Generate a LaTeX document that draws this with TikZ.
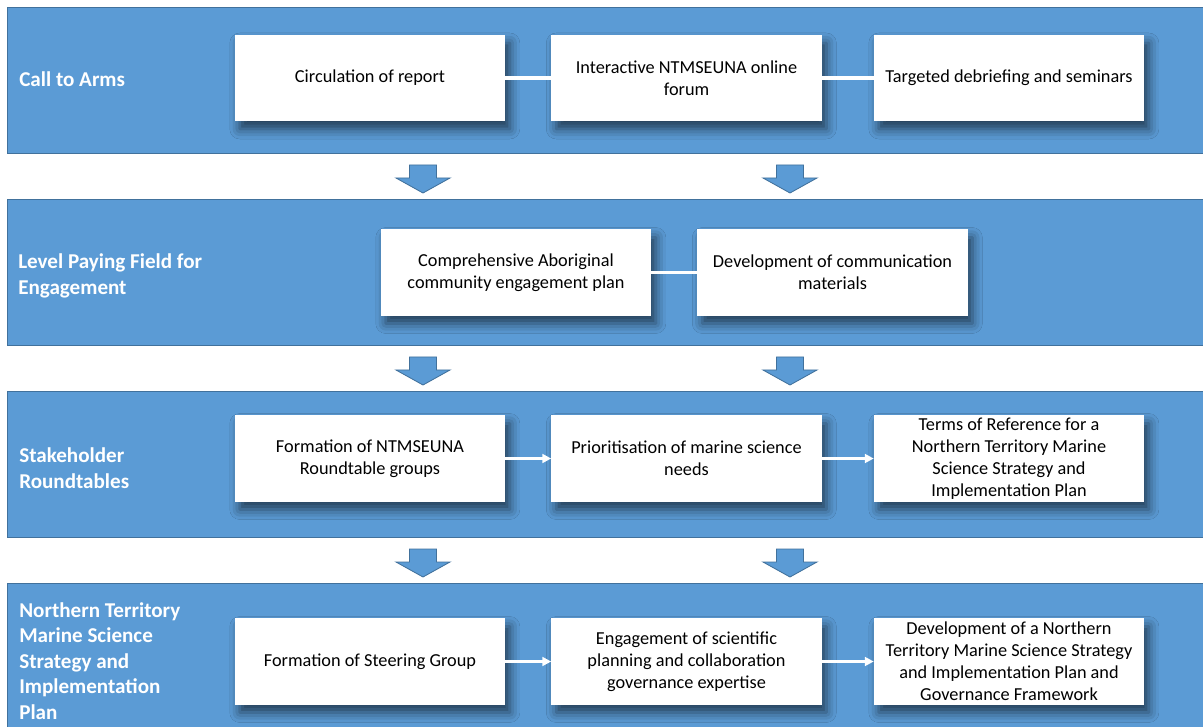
\documentclass[tikz,border=0pt]{standalone}
\usepackage{fontspec}
\setmainfont{Carlito}
\usetikzlibrary{arrows.meta,shadows.blur}
\definecolor{bandblue}{HTML}{5B9BD5}
\definecolor{bandline}{HTML}{41719C}
\begin{document}
\begin{tikzpicture}[x=0.025cm, y=-0.025cm]

	\tikzstyle{banda}=[rectangle, draw=bandline, fill=bandblue, line width=0.6pt, minimum width=30.175cm, minimum height=3.65cm, inner sep=0pt]
	\tikzstyle{titulo}=[anchor=west, align=left, text=white, inner sep=0pt, font=\fontsize{15pt}{18.2pt}\selectfont\bfseries]
	\tikzstyle{caja}=[rectangle, fill=white, minimum width=6.75cm, minimum height=2.15cm, align=center, inner sep=0pt, font=\fontsize{13pt}{15.6pt}\selectfont, blur shadow={shadow xshift=0.12cm, shadow yshift=-0.2cm, shadow blur radius=0.25cm, shadow opacity=60}]
	\tikzstyle{enlace}=[white, line width=2.2pt]
	\tikzstyle{flecha}=[white, line width=1.5pt, -{Triangle[length=0.22cm, width=0.22cm]}]
	\tikzstyle{bloque}=[draw=bandline, fill=bandblue, line width=0.6pt, line join=miter]

	\clip (0, 0) rectangle (1203, 727);
	\fill[white] (0, 0) rectangle (1203, 727);

	\coordinate (b_1) at (611.5, 80); % CALL TO ARMS
	\coordinate (b_2) at (611.5, 272); % LEVEL PAYING FIELD
	\coordinate (b_3) at (611.5, 464); % ROUNDTABLES
	\coordinate (b_4) at (611.5, 663); % STRATEGY

	\node[banda] (b_1) at (b_1) {};
	\node[banda] (b_2) at (b_2) {};
	\node[banda] (b_3) at (b_3) {};
	\node[banda, minimum height=4.0cm] (b_4) at (b_4) {};

	\node[titulo] (t_1) at (19, 79) {Call to Arms};
	\node[titulo] (t_2) at (18, 276) {Level Paying Field for\\Engagement};
	\node[titulo] (t_3) at (19, 468) {Stakeholder\\Roundtables};
	\node[titulo] (t_4) at (19, 661) {Northern Territory\\Marine Science\\Strategy and\\Implementation\\Plan};

	\coordinate (c_1_1) at (370, 78); % FILA 1
	\coordinate (c_1_2) at (686.5, 78); % FILA 1
	\coordinate (c_1_3) at (1009, 78); % FILA 1
	\coordinate (c_2_1) at (516, 272.5); % FILA 2
	\coordinate (c_2_2) at (832.5, 272.5); % FILA 2
	\coordinate (c_3_1) at (370, 458.5); % FILA 3
	\coordinate (c_3_2) at (686.5, 458.5); % FILA 3
	\coordinate (c_3_3) at (1009, 458.5); % FILA 3
	\coordinate (c_4_1) at (370, 661.5); % FILA 4
	\coordinate (c_4_2) at (686.5, 661.5); % FILA 4
	\coordinate (c_4_3) at (1009, 661.5); % FILA 4

	\node[caja] (c_1_1) at (c_1_1) {Circulation of report};
	\node[caja] (c_1_2) at (c_1_2) {Interactive NTMSEUNA online\\forum};
	\node[caja] (c_1_3) at (c_1_3) {Targeted debriefing and seminars};
	\node[caja] (c_2_1) at (c_2_1) {Comprehensive Aboriginal\\community engagement plan};
	\node[caja] (c_2_2) at (c_2_2) {Development of communication\\materials};
	\node[caja] (c_3_1) at (c_3_1) {Formation of NTMSEUNA\\Roundtable groups};
	\node[caja] (c_3_2) at (c_3_2) {Prioritisation of marine science\\needs};
	\node[caja] (c_3_3) at (c_3_3) {Terms of Reference for a\\Northern Territory Marine\\Science Strategy and\\Implementation Plan};
	\node[caja] (c_4_1) at (c_4_1) {Formation of Steering Group};
	\node[caja] (c_4_2) at (c_4_2) {Engagement of scientific\\planning and collaboration\\governance expertise};
	\node[caja] (c_4_3) at (c_4_3) {Development of a Northern\\Territory Marine Science Strategy\\and Implementation Plan and\\Governance Framework};

	\draw[enlace] (c_1_1) -- (c_1_2);
	\draw[enlace] (c_1_2) -- (c_1_3);
	\draw[enlace] (c_2_1) -- (c_2_2);

	\draw[flecha] (c_3_1) -- (c_3_2);
	\draw[flecha] (c_3_2) -- (c_3_3);
	\draw[flecha] (c_4_1) -- (c_4_2);
	\draw[flecha] (c_4_2) -- (c_4_3);

	%%%%%%%% FLECHAS ENTRE BANDAS %%%%%%%%
	\foreach \x/\y in {423/165, 790/165, 423/357, 790/357, 423/549, 790/549}
		\draw[bloque, shift={(\x, \y)}] (-13.5, 0) -- (13.5, 0) -- (13.5, 13) -- (27, 13) -- (0, 28) -- (-27, 13) -- (-13.5, 13) -- cycle;
	%%%%%%%%%%%%%%%%%%%%%%%%%%%%%%%%%
\end{tikzpicture}
\end{document}
